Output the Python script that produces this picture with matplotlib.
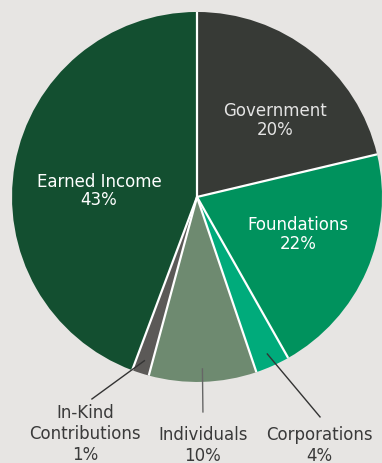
import numpy as np
import matplotlib.pyplot as plt

plt.rcParams['font.family'] = ['DejaVu Sans']

# shares as drawn (clockwise from 12 o'clock)
categories = ["Government", "Foundations", "Corporations", "Individuals",
              "In-Kind\nContributions", "Earned Income"]
shares = [21.3, 20.5, 3.0, 9.4, 1.5, 44.3]
pct_labels = ["20%", "22%", "4%", "10%", "1%", "43%"]
colors = ["#373a36", "#00925d", "#00ab7b", "#6e8a70", "#5b5957", "#134f30"]

bg = "#e7e5e3"
fig = plt.figure(figsize=(3.82, 4.64), dpi=100, facecolor=bg)
ax = fig.add_axes([0, 0, 1, 1])
ax.set_facecolor(bg)

wedges, _ = ax.pie(shares, colors=colors, startangle=90, counterclock=False,
                   radius=1.0, wedgeprops=dict(linewidth=0))

# white separators between slices (no outer outline)
for w in wedges:
    a = np.deg2rad(w.theta1)
    ax.plot([0, np.cos(a)], [0, np.sin(a)], color="white", lw=1.6,
            solid_capstyle="butt")

ax.set_xlim(-1.065, 1.0)
ax.set_ylim(-1.438, 1.07)
ax.set_aspect("equal")
ax.axis("off")

# labels inside the pie
inside = {0: (0.423, 0.42, "#e4e4e4"), 1: (0.546, -0.197, "white"), 5: (-0.53, 0.038, "white")}
for i, (tx, ty, c) in inside.items():
    ax.text(tx, ty, categories[i] + "\n" + pct_labels[i], ha="center", va="center",
            fontsize=12, color=c, linespacing=1.06)

# labels outside with leader lines
outside = {4: (-0.605, -1.275, -0.568, -1.092, "#333333"),
           3: (0.032, -1.34, 0.032, -1.162, "#666666"),
           2: (0.66, -1.34, 0.665, -1.189, "#333333")}
for i, (tx, ty, lx, ly, lc) in outside.items():
    w = wedges[i]
    mid = np.deg2rad((w.theta1 + w.theta2) / 2)
    sx, sy = 0.93 * np.cos(mid), 0.93 * np.sin(mid)
    ax.plot([sx, lx], [sy, ly], color=lc, lw=1.0)
    ax.text(tx, ty, categories[i] + "\n" + pct_labels[i], ha="center", va="center",
            fontsize=12, color="#3a3a3a", linespacing=1.2)

fig.savefig("out.png", dpi=100, facecolor=bg)
